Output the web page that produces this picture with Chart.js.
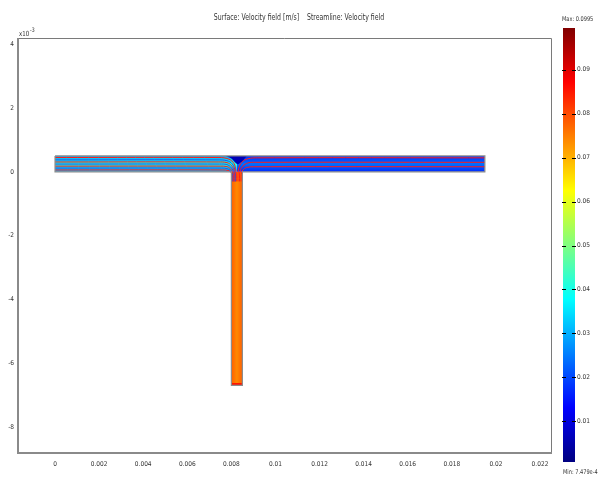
<!DOCTYPE html>
<html>
<head>
<meta charset="utf-8">
<script src="https://cdn.jsdelivr.net/npm/chart.js@4/dist/chart.umd.min.js"></script>
<style>
  html, body { margin: 0; padding: 0; background: #fff; }
  #wrap { position: relative; width: 600px; height: 478px; }
  #main { position: absolute; left: 0; top: 0; }
  #bar { position: absolute; left: 540px; top: 0; }
</style>
</head>
<body>
<div id="wrap">
  <canvas id="main" width="600" height="478"></canvas>
  <canvas id="bar" width="60" height="478"></canvas>
</div>
<script>
// ---- axes (metres) ----
const xRange = [-0.00168, 0.0225];
const yRange = [-0.00882, 0.0042];
const xTicks = [0, 0.002, 0.004, 0.006, 0.008, 0.01, 0.012, 0.014, 0.016, 0.018, 0.02, 0.022];
const xTickLabels = ['0', '0.002', '0.004', '0.006', '0.008', '0.01', '0.012', '0.014', '0.016', '0.018', '0.02', '0.022'];
const yTicks = [-0.008, -0.006, -0.004, -0.002, 0, 0.002, 0.004];
const yTickLabels = ['-8', '-6', '-4', '-2', '0', '2', '4'];

// ---- T-channel geometry (metres) ----
const mainChannelX = [0, 0.0195];
const mainChannelY = [0, 0.0005];
const outletX = [0.008, 0.0085];
const outletBottom = -0.0067;
const inletSplitX = 0.00825;

// ---- velocity magnitude per region (m/s): wall side, core ----
const leftInletSpeed = [0.029, 0.041];
const rightInletSpeed = [0.017, 0.024];
const outletSpeed = [0.078, 0.074];
const outletTipSpeed = 0.085;
const stagnationSpeed = 0.006;

// stagnation zone at the top of the junction
const stagnationTop = [[0.00775, 0.0005], [0.0087, 0.0005]];
const stagnationEdge = [[0.00775, 0.0005], [0.0080, 0.00042], [0.0082, 0.00028], [0.0083, 0.00024], [0.0085, 0.00034], [0.0087, 0.0005]];
// slightly faster fluid at the closed end of the outlet
const outletTip = [[0.008, -0.00662], [0.0085, -0.00662]];

// ---- streamlines ----
const leftStreams = [
  [[0, 0.45e-3], [7.3e-3, 0.45e-3], [7.8e-3, 0.42e-3], [8.08e-3, 0.30e-3], [8.19e-3, 0.10e-3], [8.22e-3, -0.1e-3], [8.22e-3, -0.3e-3]],
  [[0, 0.375e-3], [7.35e-3, 0.375e-3], [7.8e-3, 0.35e-3], [8.04e-3, 0.25e-3], [8.15e-3, 0.08e-3], [8.19e-3, -0.1e-3], [8.19e-3, -0.3e-3]],
  [[0, 0.31e-3], [7.4e-3, 0.31e-3], [7.8e-3, 0.29e-3], [8.0e-3, 0.20e-3], [8.12e-3, 0.05e-3], [8.16e-3, -0.1e-3], [8.16e-3, -0.3e-3]],
  [[0, 0.245e-3], [7.45e-3, 0.245e-3], [7.8e-3, 0.23e-3], [7.97e-3, 0.15e-3], [8.09e-3, 0.02e-3], [8.13e-3, -0.1e-3], [8.13e-3, -0.3e-3]],
  [[0, 0.18e-3], [7.5e-3, 0.18e-3], [7.8e-3, 0.165e-3], [7.95e-3, 0.10e-3], [8.06e-3, -0.02e-3], [8.1e-3, -0.12e-3], [8.1e-3, -0.3e-3]],
  [[0, 0.12e-3], [7.55e-3, 0.12e-3], [7.8e-3, 0.105e-3], [7.95e-3, 0.04e-3], [8.05e-3, -0.06e-3], [8.07e-3, -0.15e-3], [8.07e-3, -0.3e-3]],
  [[0, 0.06e-3], [7.6e-3, 0.06e-3], [7.85e-3, 0.045e-3], [7.97e-3, 0], [8.03e-3, -0.08e-3], [8.04e-3, -0.18e-3], [8.04e-3, -0.3e-3]]
];
const leftStreamColors = ['#ff1a1a', '#2050f0', '#ff1a1a', '#2050f0', '#ff1a1a', '#2050f0', '#ff1a1a'];
const rightStreams = [
  [[19.5e-3, 0.44e-3], [9.2e-3, 0.44e-3], [8.75e-3, 0.41e-3], [8.47e-3, 0.30e-3], [8.33e-3, 0.10e-3], [8.3e-3, -0.1e-3], [8.3e-3, -0.3e-3]],
  [[19.5e-3, 0.30e-3], [9.1e-3, 0.30e-3], [8.75e-3, 0.28e-3], [8.52e-3, 0.18e-3], [8.4e-3, 0.03e-3], [8.37e-3, -0.1e-3], [8.37e-3, -0.3e-3]],
  [[19.5e-3, 0.16e-3], [9.0e-3, 0.16e-3], [8.75e-3, 0.145e-3], [8.55e-3, 0.08e-3], [8.46e-3, -0.03e-3], [8.44e-3, -0.15e-3], [8.44e-3, -0.3e-3]]
];
const rightStreamColors = ['#ff1a1a', '#ff1a1a', '#ff1a1a'];

// ---- colour scale ----
const cbMin = 7.479e-4;
const cbMax = 0.0995;
const cbTicks = [0.01, 0.02, 0.03, 0.04, 0.05, 0.06, 0.07, 0.08, 0.09];
const cbTickLabels = ['0.01', '0.02', '0.03', '0.04', '0.05', '0.06', '0.07', '0.08', '0.09'];

const FONT = "'Liberation Sans Narrow', 'DejaVu Sans Condensed', 'DejaVu Sans', sans-serif";

// jet colour map on the colour-bar range
function jet(v) {
  const t = Math.min(1, Math.max(0, (v - cbMin) / (cbMax - cbMin)));
  const c = x => Math.round(255 * Math.min(1, Math.max(0, 1.5 - Math.abs(x))));
  return `rgb(${c(4 * t - 3)},${c(4 * t - 2)},${c(4 * t - 1)})`;
}

// gradient across the channel, wall -> core -> wall
function bandGradient(chart, axis, lo, hi, speeds, fallback) {
  const { ctx, chartArea, scales } = chart;
  if (!chartArea) return fallback;
  let g;
  if (axis === 'y') {
    g = ctx.createLinearGradient(0, scales.y.getPixelForValue(hi), 0, scales.y.getPixelForValue(lo));
  } else {
    g = ctx.createLinearGradient(scales.x.getPixelForValue(lo), 0, scales.x.getPixelForValue(hi), 0);
  }
  g.addColorStop(0, jet(speeds[0]));
  g.addColorStop(0.5, jet(speeds[1]));
  g.addColorStop(1, jet(speeds[0]));
  return g;
}

// narrow text helper for the free-standing labels
function narrowText(ctx, text, x, y, size, align) {
  const sx = 0.86;
  ctx.save();
  ctx.font = size + 'px ' + FONT;
  ctx.textAlign = align;
  ctx.translate(x, y);
  ctx.scale(sx, 1);
  ctx.fillText(text, 0, 0);
  ctx.restore();
}

const wallOutline = [
  [mainChannelX[0], mainChannelY[1]], [mainChannelX[1], mainChannelY[1]], [mainChannelX[1], mainChannelY[0]],
  [outletX[1], mainChannelY[0]], [outletX[1], outletBottom], [outletX[0], outletBottom],
  [outletX[0], mainChannelY[0]], [mainChannelX[0], mainChannelY[0]], [mainChannelX[0], mainChannelY[1]]
];

const datasets = [];
datasets.push({
  label: 'walls', data: wallOutline, borderColor: '#8c8c8c', borderWidth: 1.2,
  pointRadius: 0, showLine: true, fill: false, tension: 0, order: 0
});
leftStreams.forEach((pts, i) => datasets.push({
  label: 'streamline', data: pts, borderColor: leftStreamColors[i], borderWidth: 1,
  pointRadius: 0, showLine: true, fill: false, tension: 0.4, order: 1
}));
rightStreams.forEach((pts, i) => datasets.push({
  label: 'streamline', data: pts, borderColor: rightStreamColors[i], borderWidth: 1,
  pointRadius: 0, showLine: true, fill: false, tension: 0.4, order: 1
}));
datasets.push({
  label: 'stagnation', data: stagnationTop, borderWidth: 0, pointRadius: 0, showLine: true,
  fill: '+1', backgroundColor: jet(stagnationSpeed), order: 5
});
datasets.push({
  label: 'stagnation edge', data: stagnationEdge, borderWidth: 0, pointRadius: 0, showLine: true,
  fill: false, tension: 0.3, order: 6
});
datasets.push({
  label: 'outlet tip', data: outletTip, borderWidth: 0, pointRadius: 0, showLine: true,
  fill: { value: outletBottom }, backgroundColor: jet(outletTipSpeed), order: 7
});
datasets.push({
  label: 'left inlet', data: [[mainChannelX[0], mainChannelY[1]], [inletSplitX, mainChannelY[1]]],
  borderWidth: 0, pointRadius: 0, showLine: true, fill: { value: mainChannelY[0] },
  backgroundColor: c => bandGradient(c.chart, 'y', mainChannelY[0], mainChannelY[1], leftInletSpeed, jet(leftInletSpeed[1])),
  order: 10
});
datasets.push({
  label: 'right inlet', data: [[inletSplitX, mainChannelY[1]], [mainChannelX[1], mainChannelY[1]]],
  borderWidth: 0, pointRadius: 0, showLine: true, fill: { value: mainChannelY[0] },
  backgroundColor: c => bandGradient(c.chart, 'y', mainChannelY[0], mainChannelY[1], rightInletSpeed, jet(rightInletSpeed[1])),
  order: 10
});
datasets.push({
  label: 'outlet', data: [[outletX[0], mainChannelY[0]], [outletX[1], mainChannelY[0]]],
  borderWidth: 0, pointRadius: 0, showLine: true, fill: { value: outletBottom },
  backgroundColor: c => bandGradient(c.chart, 'x', outletX[0], outletX[1], outletSpeed, jet(outletSpeed[1])),
  order: 10
});

const framePlugin = {
  id: 'frame',
  afterDraw(chart) {
    const { ctx, chartArea: a } = chart;
    ctx.save();
    ctx.strokeStyle = '#7a7a7a';
    ctx.lineWidth = 1;
    ctx.beginPath();
    ctx.moveTo(a.left, a.top + 0.5); ctx.lineTo(a.right + 0.5, a.top + 0.5); ctx.lineTo(a.right + 0.5, a.bottom);
    ctx.stroke();
    ctx.strokeStyle = '#8a8a8a';
    ctx.lineWidth = 2;
    ctx.beginPath();
    ctx.moveTo(a.left, a.top); ctx.lineTo(a.left, a.bottom); ctx.lineTo(a.right + 1, a.bottom);
    ctx.stroke();
    // title and y-axis multiplier
    ctx.fillStyle = '#333';
    ctx.textBaseline = 'middle';
    narrowText(ctx, 'Surface: Velocity field [m/s]    Streamline: Velocity field', 299, 18, 8, 'center');
    ctx.textBaseline = 'alphabetic';
    narrowText(ctx, 'x10', a.left + 1, a.top - 2, 7, 'left');
    narrowText(ctx, '-3', a.left + 12, a.top - 6, 6, 'left');
    ctx.restore();
  }
};

new Chart(document.getElementById('main'), {
  type: 'scatter',
  data: { datasets },
  options: {
    responsive: false,
    animation: false,
    layout: { padding: { left: 0, top: 38, right: 49, bottom: 0 } },
    plugins: { legend: { display: false }, tooltip: { enabled: false }, title: { display: false } },
    scales: {
      x: {
        type: 'linear', min: xRange[0], max: xRange[1],
        grid: { display: false, drawTicks: false }, border: { display: false },
        afterBuildTicks: s => { s.ticks = xTicks.map(v => ({ value: v })); },
        afterFit: s => { s.height = 25; },
        ticks: { padding: 7, color: '#333', font: { family: FONT, size: 6.5 }, maxRotation: 0, autoSkip: false,
                 callback: (v, i) => xTickLabels[i] }
      },
      y: {
        type: 'linear', min: yRange[0], max: yRange[1],
        grid: { display: false, drawTicks: false }, border: { display: false },
        afterBuildTicks: s => { s.ticks = yTicks.map(v => ({ value: v })); },
        afterFit: s => { s.width = 18; },
        ticks: { padding: 4, color: '#333', font: { family: FONT, size: 6.5 }, autoSkip: false,
                 callback: (v, i) => yTickLabels[i] }
      }
    }
  },
  plugins: [framePlugin]
});

// ---- colour bar ----
const barPlugin = {
  id: 'barMarks',
  afterDraw(chart) {
    const { ctx, chartArea: a, scales } = chart;
    ctx.save();
    ctx.strokeStyle = '#000';
    ctx.lineWidth = 1;
    cbTicks.forEach(v => {
      const y = Math.round(scales.y.getPixelForValue(v)) + 0.5;
      ctx.beginPath();
      ctx.moveTo(a.left - 1, y); ctx.lineTo(a.left + 3, y);
      ctx.moveTo(a.right - 3, y); ctx.lineTo(a.right + 1, y);
      ctx.stroke();
    });
    ctx.fillStyle = '#333';
    ctx.textBaseline = 'middle';
    narrowText(ctx, 'Max: ' + cbMax, 22, 19, 6.5, 'left');
    narrowText(ctx, 'Min: ' + cbMin.toExponential(), 23, 472, 6.5, 'left');
    ctx.restore();
  }
};

new Chart(document.getElementById('bar'), {
  type: 'bar',
  data: {
    labels: ['|U|'],
    datasets: [{
      data: [[cbMin, cbMax]],
      barPercentage: 1, categoryPercentage: 1, borderWidth: 0,
      backgroundColor: c => {
        const { ctx, chartArea, scales } = c.chart;
        if (!chartArea) return jet((cbMin + cbMax) / 2);
        const g = ctx.createLinearGradient(0, scales.y.getPixelForValue(cbMin), 0, scales.y.getPixelForValue(cbMax));
        for (let k = 0; k <= 40; k++) {
          const v = cbMin + (cbMax - cbMin) * k / 40;
          g.addColorStop(k / 40, jet(v));
        }
        return g;
      }
    }]
  },
  options: {
    responsive: false,
    animation: false,
    layout: { padding: { left: 23, top: 28, right: 0, bottom: 16 } },
    plugins: { legend: { display: false }, tooltip: { enabled: false } },
    scales: {
      x: { display: false },
      y: {
        position: 'right', min: cbMin, max: cbMax,
        grid: { display: false, drawTicks: false }, border: { display: false },
        afterBuildTicks: s => { s.ticks = cbTicks.map(v => ({ value: v })); },
        afterFit: s => { s.width = 25; },
        ticks: { padding: 2, color: '#333', font: { family: FONT, size: 6.5 }, autoSkip: false,
                 callback: (v, i) => cbTickLabels[i] }
      }
    }
  },
  plugins: [barPlugin]
});
</script>
</body>
</html>
